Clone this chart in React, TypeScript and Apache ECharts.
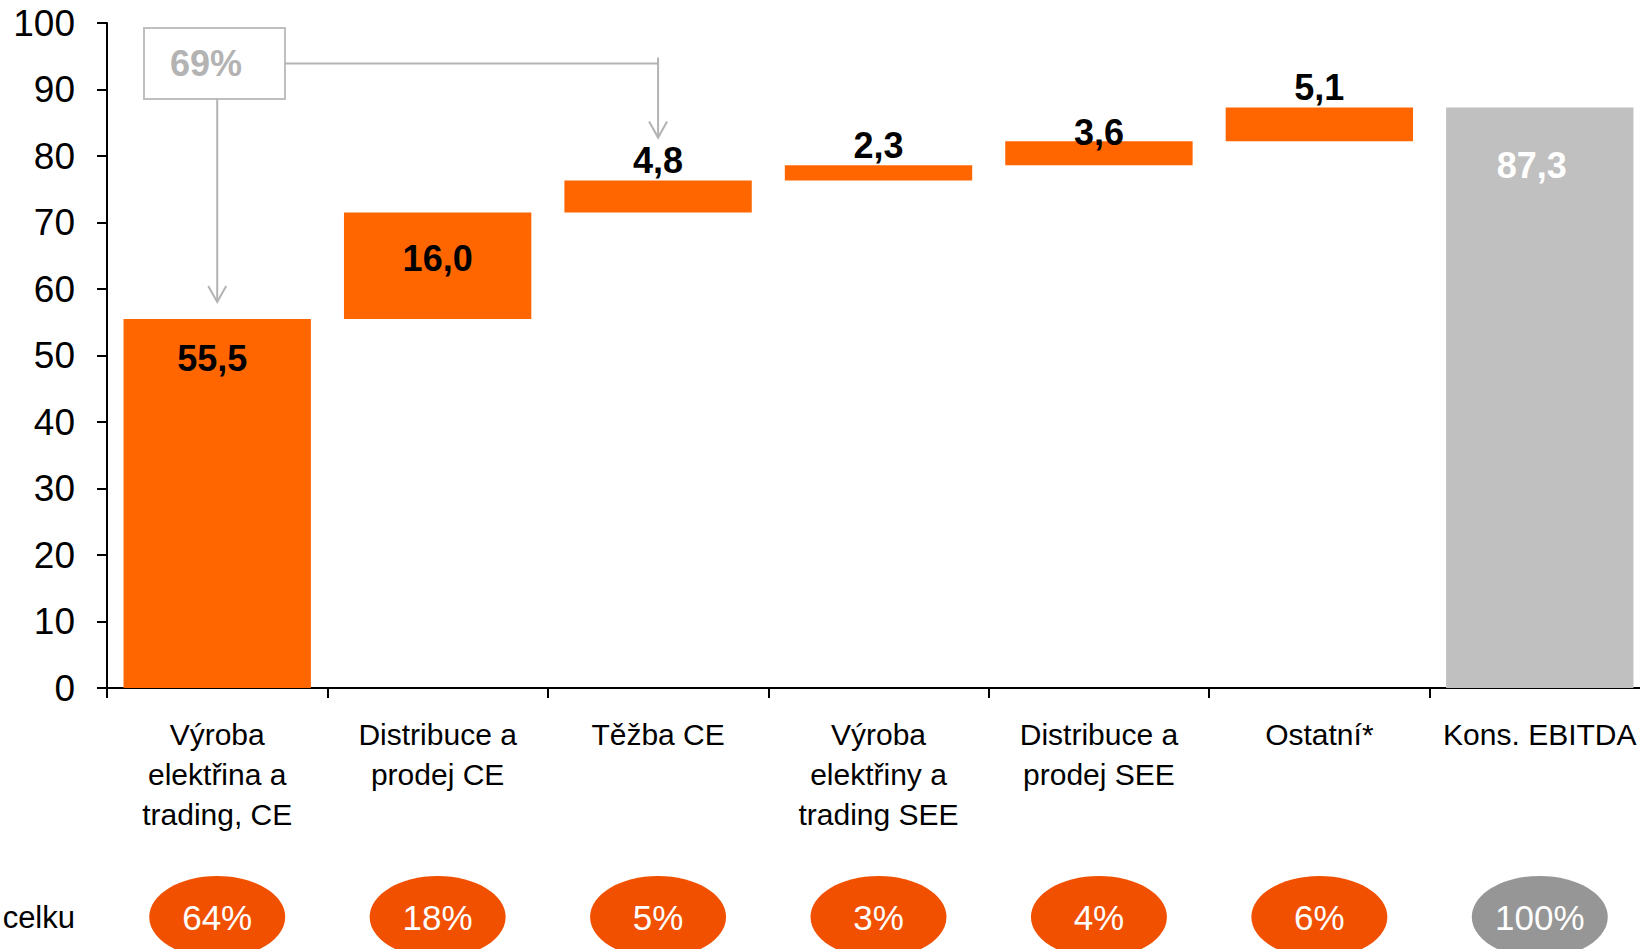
import React, { useEffect, useRef } from "react";
import * as echarts from "echarts";

const categories = [
  "Výroba\nelektřina a\ntrading, CE",
  "Distribuce a\nprodej CE",
  "Těžba CE",
  "Výroba\nelektřiny a\ntrading SEE",
  "Distribuce a\nprodej SEE",
  "Ostatní*",
  "Kons. EBITDA",
];
const values = [55.5, 16.0, 4.8, 2.3, 3.6, 5.1, 87.3];
const isTotal = [false, false, false, false, false, false, true];
const shares = ["64%", "18%", "5%", "3%", "4%", "6%", "100%"];
const shareRowLabel = "celku";
const annotationText = "69%";
const annotationTargets = [0, 2];

const ORANGE = "#FF6600";
const ORANGE_DARK = "#F05000";
const GREY = "#C0C0C0";
const GREY_DARK = "#969696";
const ANNOT = "#B3B3B3";
const FONT = "'Liberation Sans', Arial, sans-serif";

const fmt = (v: number) => v.toFixed(1).replace(".", ",");

export default function App() {
  const ref = useRef<HTMLDivElement>(null);
  useEffect(() => {
    if (!ref.current) return;
    const chart = echarts.init(ref.current, undefined, { renderer: "svg" });

    let run = 0;
    const bases: number[] = [];
    values.forEach((v, i) => {
      if (isTotal[i]) bases.push(0);
      else {
        bases.push(run);
        run += v;
      }
    });

    const labelFor = (i: number) => {
      const base = {
        show: true,
        formatter: () => fmt(values[i]),
        fontFamily: FONT,
        fontWeight: "bold" as const,
        fontSize: 36,
        color: "#000",
      };
      if (isTotal[i]) return { ...base, position: "insideTop", distance: 40, color: "#fff", offset: [-8, 0] };
      if (i === 0) return { ...base, position: "insideTop", distance: 22, offset: [-5, 0] };
      if (i === 1) return { ...base, position: "inside", offset: [0, -7] };
      if (i === 4) return { ...base, position: "top", distance: 0, offset: [0, 9] };
      return { ...base, position: "top", distance: 2 };
    };

    chart.setOption({
      animation: false,
      grid: {
        left: 107,
        top: 23,
        bottom: 261,
        right: -10,
        containLabel: false,
        outerBoundsMode: "none",
      },
      xAxis: {
        type: "category",
        data: categories,
        axisLine: { show: true, lineStyle: { color: "#000", width: 2 } },
        axisTick: { show: true, length: 10, lineStyle: { color: "#000", width: 2 } },
        axisLabel: {
          interval: 0,
          margin: 26,
          fontFamily: FONT,
          fontSize: 30,
          lineHeight: 40,
          color: "#000",
        },
        splitLine: { show: false },
      },
      yAxis: {
        type: "value",
        min: 0,
        max: 100,
        interval: 10,
        axisLine: { show: true, lineStyle: { color: "#000", width: 2 } },
        axisTick: { show: true, length: 10, lineStyle: { color: "#000", width: 2 } },
        axisLabel: {
          margin: 32,
          fontFamily: FONT,
          fontSize: 37,
          color: "#000",
        },
        splitLine: { show: false },
      },
      series: [
        {
          type: "bar",
          stack: "wf",
          data: bases,
          itemStyle: { color: "transparent" },
          barCategoryGap: "15%",
          silent: true,
        },
        {
          type: "bar",
          stack: "wf",
          barCategoryGap: "15%",
          data: values.map((v, i) => ({
            value: v,
            itemStyle: { color: isTotal[i] ? GREY : ORANGE },
            label: labelFor(i),
          })),
        },
      ],
    });

    const px = (i: number) => chart.convertToPixel({ xAxisIndex: 0 }, i) as number;
    const py = (v: number) => chart.convertToPixel({ yAxisIndex: 0 }, v) as number;

    const graphics: any[] = [];
    const cy = 917;
    shares.forEach((s, i) => {
      const cx = px(i);
      graphics.push({
        type: "ellipse",
        shape: { cx, cy, rx: 68, ry: 41 },
        style: { fill: isTotal[i] ? GREY_DARK : ORANGE_DARK },
        z: 10,
      });
      graphics.push({
        type: "text",
        x: cx,
        y: cy,
        style: {
          text: s,
          fill: "#fff",
          fontFamily: FONT,
          fontSize: 35,
          align: "center",
          verticalAlign: "middle",
          textAlign: "center",
          textVerticalAlign: "middle",
        },
        z: 11,
      });
    });
    graphics.push({
      type: "text",
      x: 75,
      y: cy,
      style: {
        text: shareRowLabel,
        fill: "#000",
        fontFamily: FONT,
        fontSize: 31,
        align: "right",
        verticalAlign: "middle",
        textAlign: "right",
        textVerticalAlign: "middle",
      },
      z: 11,
    });

    // annotation
    const ax0 = px(annotationTargets[0]);
    const ax1 = px(annotationTargets[1]);
    const boxL = 144, boxT = 28, boxW = 141, boxH = 71;
    const boxMid = boxT + boxH / 2;
    const tip0 = py(values[0]) - 17;
    let cum = 0;
    for (let i = 0; i <= annotationTargets[1]; i++) cum += values[i];
    const tip1 = py(cum) - 43;
    const ls = { stroke: ANNOT, lineWidth: 2, fill: "none" };
    graphics.push(
      {
        type: "rect",
        shape: { x: boxL, y: boxT, width: boxW, height: boxH },
        style: { fill: "#fff", stroke: "#BFBFBF", lineWidth: 2 },
        z: 20,
      },
      {
        type: "text",
        x: 206,
        y: boxMid,
        style: {
          text: annotationText,
          fill: ANNOT,
          fontFamily: FONT,
          fontWeight: "bold",
          fontSize: 36,
          align: "center",
          verticalAlign: "middle",
          textAlign: "center",
          textVerticalAlign: "middle",
        },
        z: 21,
      },
      { type: "line", shape: { x1: ax0, y1: boxT + boxH, x2: ax0, y2: tip0 }, style: ls, z: 20 },
      { type: "polyline", shape: { points: [[ax0 - 9, tip0 - 16], [ax0, tip0], [ax0 + 9, tip0 - 16]] }, style: ls, z: 20 },
      { type: "line", shape: { x1: boxL + boxW, y1: boxMid, x2: ax1, y2: boxMid }, style: ls, z: 20 },
      { type: "line", shape: { x1: ax1, y1: boxMid - 6, x2: ax1, y2: tip1 }, style: ls, z: 20 },
      { type: "polyline", shape: { points: [[ax1 - 9, tip1 - 16], [ax1, tip1], [ax1 + 9, tip1 - 16]] }, style: ls, z: 20 }
    );

    chart.setOption({ graphic: { elements: graphics } });

    return () => chart.dispose();
  }, []);

  return (
    <div
      ref={ref}
      style={{
        position: "fixed",
        left: 0,
        top: 0,
        width: 1640,
        height: 949,
        overflow: "hidden",
        background: "#fff",
      }}
    />
  );
}
